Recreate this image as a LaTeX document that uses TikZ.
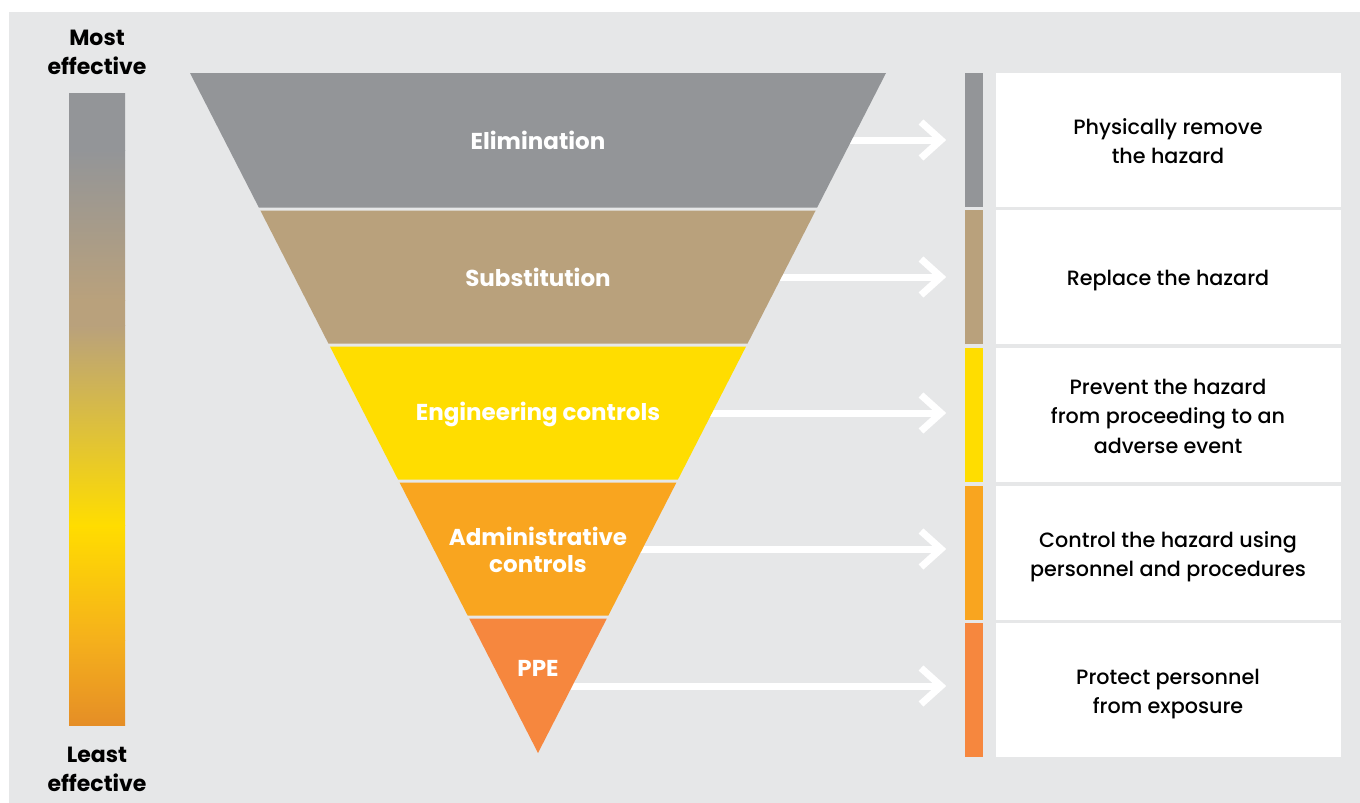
\documentclass[tikz,border=0pt]{standalone}
\usepackage{fontspec}
\setmainfont{Poppins}
\IfFontExistsTF{Poppins Medium}{\newfontfamily\medfont{Poppins Medium}}{\newfontfamily\medfont{Poppins}[FakeBold=0.4]}
\definecolor{bg}{HTML}{E6E7E8}
\definecolor{cgray}{HTML}{939598}
\definecolor{ctan}{HTML}{B9A17C}
\definecolor{cyel}{HTML}{FFDD00}
\definecolor{cadm}{HTML}{F9A51F}
\definecolor{cppe}{HTML}{F6873E}
\definecolor{cbot}{HTML}{E58E26}
\definecolor{cmid}{HTML}{F5B01C}
\tikzset{
  tlabel/.style={text=white,font=\bfseries\fontsize{23}{27}\selectfont,align=center},
  blabel/.style={text=black,font=\medfont\fontsize{20.7}{29.5}\selectfont,align=center},
  slabel/.style={text=black,font=\bfseries\fontsize{22}{29}\selectfont,align=center},
  arrowline/.style={draw=white,line width=7pt},
  chev/.style={draw=white,line width=7pt,miter limit=10},
}
\begin{document}
\begin{tikzpicture}[x=1pt,y=-1pt]
\useasboundingbox (0,0) rectangle (1360,803);
\fill[bg] (9,12) rectangle (1360,803);
% gradient bar
\shade[top color=cgray,bottom color=cgray] (69,93) rectangle (125,150.5);
\shade[top color=cgray,bottom color=ctan] (69,150) rectangle (125,300.5);
\shade[top color=ctan,bottom color=ctan] (69,300) rectangle (125,325.5);
\shade[top color=ctan,bottom color=cyel] (69,325) rectangle (125,525.5);
\shade[top color=cyel,bottom color=cmid] (69,525) rectangle (125,640.5);
\shade[top color=cmid,bottom color=cbot] (69,640) rectangle (125,725);
\node[slabel] (most) at (97,52) {Most\\effective};
\node[slabel] (least) at (97,769) {Least\\effective};
% arrows (behind triangle)
\foreach \i/\yy in {1/140,2/277,3/413,4/549,5/686}{
  \coordinate (s\i) at (538,\yy);
  \coordinate (t\i) at (941,\yy);
  \draw[arrowline] (s\i) -- (t\i);
  \draw[chev] ([xshift=-20pt,yshift=-18pt]t\i) -- (t\i) -- ([xshift=-20pt,yshift=18pt]t\i);
}
% triangle bands
\def\L#1{190+(#1-73)*0.51176}
\def\R#1{886-(#1-73)*0.51176}
\fill[cgray] ({\L{73}},73) -- ({\R{73}},73) -- ({\R{207.5}},207.5) -- ({\L{207.5}},207.5) -- cycle;
\fill[ctan] ({\L{210.5}},210.5) -- ({\R{210.5}},210.5) -- ({\R{343.5}},343.5) -- ({\L{343.5}},343.5) -- cycle;
\fill[cyel] ({\L{346.5}},346.5) -- ({\R{346.5}},346.5) -- ({\R{479.5}},479.5) -- ({\L{479.5}},479.5) -- cycle;
\fill[cadm] ({\L{482.5}},482.5) -- ({\R{482.5}},482.5) -- ({\R{615.5}},615.5) -- ({\L{615.5}},615.5) -- cycle;
\fill[cppe] ({\L{618.5}},618.5) -- ({\R{618.5}},618.5) -- (538,753) -- cycle;
\node[tlabel] (b1) at (538,140) {Elimination};
\node[tlabel] (b2) at (538,277) {Substitution};
\node[tlabel] (b3) at (538,414) {Engineering controls};
\node[tlabel] (b4) at (538,550) {Administrative\\controls};
\node[tlabel] (b5) at (538,668) {PPE};
% right strips and boxes
\foreach \i/\top/\c in {1/73/cgray,2/210.3/ctan,3/348/cyel,4/485.7/cadm,5/623/cppe}{
  \fill[\c] (965,\top) rectangle (983,\top+134);
  \fill[white] (996,\top) rectangle (1341,\top+134);
}
\node[blabel] (d1) at (1168,141) {Physically remove\\the hazard};
\node[blabel] (d2) at (1168,281) {Replace the hazard};
\node[blabel] (d3) at (1168,416) {Prevent the hazard\\from proceeding to an\\adverse event};
\node[blabel] (d4) at (1168,556.5) {Control the hazard using\\personnel and procedures};
\node[blabel] (d5) at (1168,694) {Protect personnel\\from exposure};
\end{tikzpicture}
\end{document}
